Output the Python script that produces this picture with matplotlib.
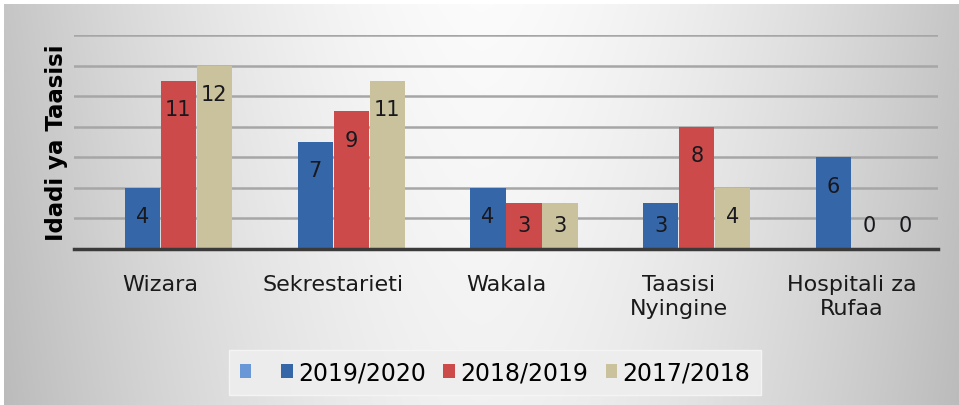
import numpy as np
import matplotlib
matplotlib.use("Agg")
import matplotlib.pyplot as plt

categories = ["Wizara", "Sekrestarieti", "Wakala", "Taasisi\nNyingine", "Hospitali za\nRufaa"]
series_names = ["", "2019/2020", "2018/2019", "2017/2018"]
v_empty = [0, 0, 0, 0, 0]
v_2019_2020 = [4, 7, 4, 3, 6]
v_2018_2019 = [11, 9, 3, 8, 0]
v_2017_2018 = [12, 11, 3, 4, 0]
colors = ["#6a98d6", "#3566a8", "#cc4b4a", "#c9c29c"]

plt.rcParams["font.family"] = ["DejaVu Sans"]
fig = plt.figure(figsize=(9.59, 4.06), dpi=100)

# grey-to-white gradient chart area
bg = fig.add_axes([4 / 959, 0, 955 / 959, 401 / 406], zorder=-5)
xx = np.linspace(-1, 1, 400)
yy = np.linspace(0, 1, 200)
X, Y = np.meshgrid(xx, yy)
shade = 0.985 - 0.21 * np.abs(X) ** 1.6 - 0.04 * Y
bg.imshow(np.dstack([shade] * 3), aspect="auto", extent=(0, 1, 0, 1))
bg.set_axis_off()

ax = fig.add_axes([74 / 959, 156 / 406, 864 / 959, 214 / 406])
ax.patch.set_alpha(0)
x = np.arange(len(categories))
w = 0.208
all_vals = [v_empty, v_2019_2020, v_2018_2019, v_2017_2018]
for i, (name, vals) in enumerate(zip(series_names, all_vals)):
    pos = x + (i - 1.5) * w
    ax.bar(pos, vals, width=w * 0.98, color=colors[i], label=name if name else " ",
           zorder=3)
    if i == 0:
        continue
    for px, v in zip(pos, vals):
        ly = max(v - 1.85, v / 2, 1.6)
        ax.text(px, ly, str(v), ha="center", va="center", fontsize=15,
                color="#18181e", zorder=4)

ax.set_ylim(0, 14)
ax.set_xlim(-0.5, len(categories) - 0.5)
ax.set_yticks(np.arange(0, 15, 2))
ax.set_yticklabels([])
ax.tick_params(axis="y", length=0)
ax.tick_params(axis="x", length=0, pad=18, labelsize=16, colors="#1a1a1a")
ax.set_xticks(x)
ax.set_xticklabels(categories, linespacing=1.25)
ax.grid(axis="y", color="#a6a6a6", lw=1.8, zorder=1)
for s in ["top", "right", "left"]:
    ax.spines[s].set_visible(False)
ax.spines["bottom"].set_color("#3a3a3a")
ax.spines["bottom"].set_linewidth(2.5)
ax.spines["bottom"].set_zorder(5)
ax.set_ylabel("Idadi ya Taasisi", fontsize=16.5, fontweight="bold", labelpad=1)

leg = ax.legend(loc="upper center", bbox_to_anchor=(0.487, -0.47), ncol=4,
                fontsize=17, frameon=True, fancybox=False, handlelength=0.5,
                handleheight=0.5, handletextpad=0.2, columnspacing=0.75,
                borderpad=0.45, borderaxespad=0)
leg.get_frame().set_facecolor("#eeeeee")
leg.get_frame().set_edgecolor("#f6f6f6")
leg.get_frame().set_alpha(0.9)

fig.savefig("out.png", dpi=100)
